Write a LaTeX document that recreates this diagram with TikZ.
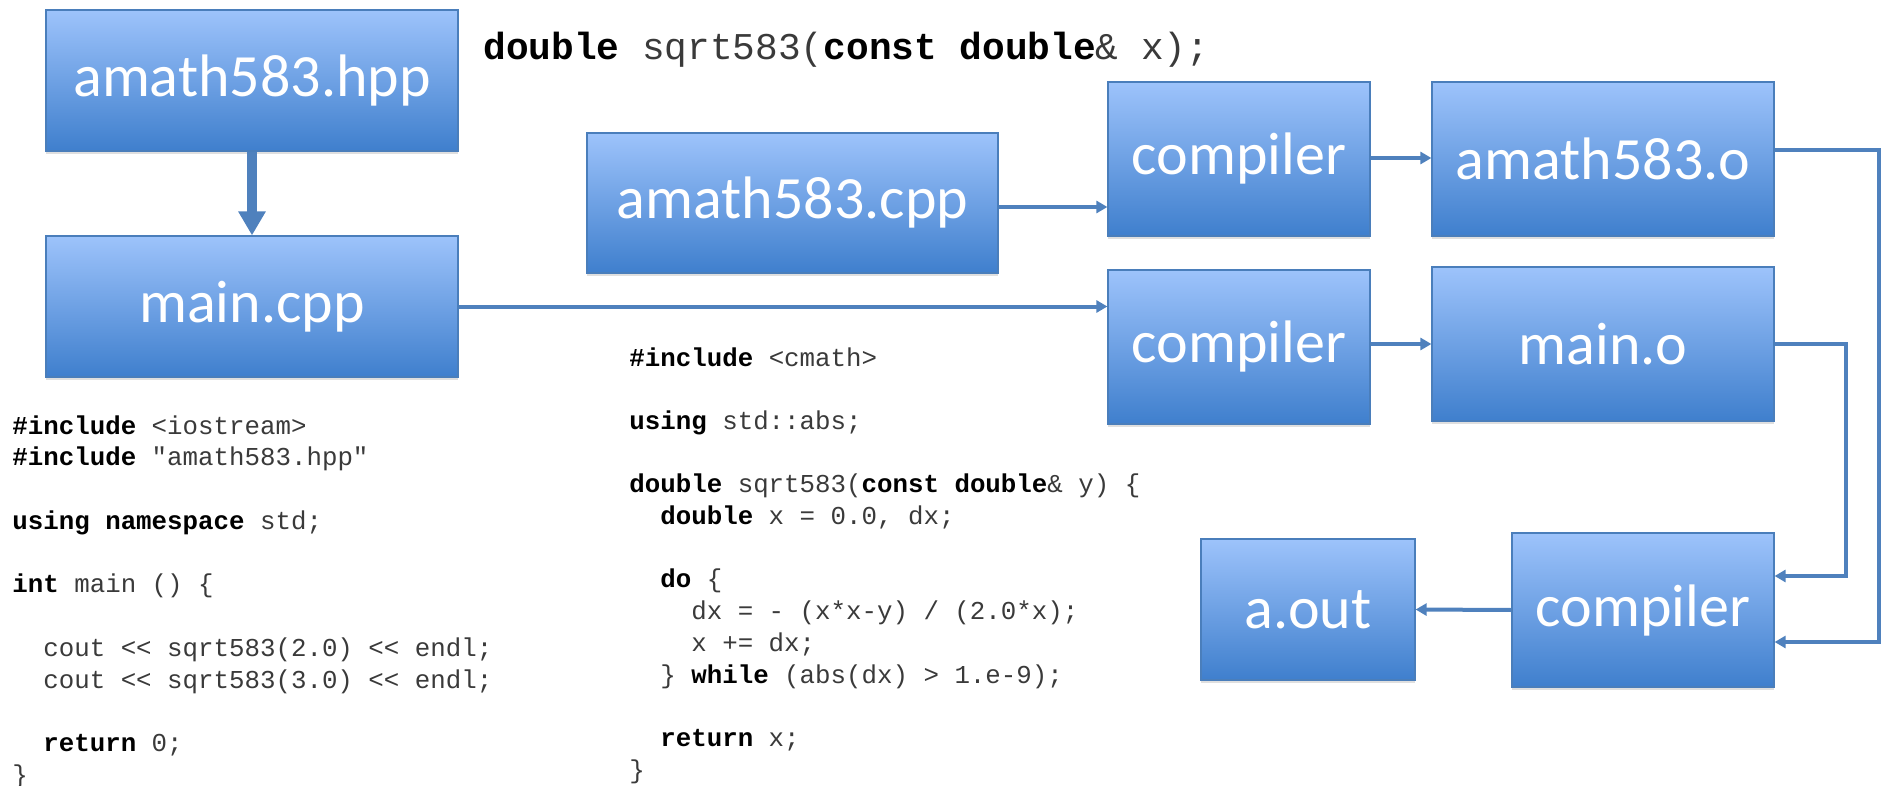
\documentclass[tikz,border=0pt]{standalone}
\usepackage{fontspec}
\setsansfont{Carlito}
\setmonofont{Liberation Mono}
\usetikzlibrary{arrows.meta,shadows}
\definecolor{boxtop}{HTML}{9DC3FB}
\definecolor{boxmid}{HTML}{80ABED}
\definecolor{boxbot}{HTML}{3F7FCD}
\definecolor{boxline}{HTML}{4A7EBB}
\definecolor{flow}{HTML}{4F81BD}
\definecolor{plain}{HTML}{3A3A3A}
\newcommand\ind{\hspace*{1.2em}}
\newcommand\kw[1]{\textcolor{black}{\textbf{#1}}}
\newcommand\cl[3]{\node[code, anchor=base west] (#1) at (#2) {#3};}
\begin{document}
\begin{tikzpicture}[x=0.5pt,y=-0.5pt,
  box/.style={draw=boxline, line width=0.6pt, top color=boxtop, middle color=boxmid,
    bottom color=boxbot, text=white, inner sep=0pt,
    font=\sffamily\fontsize{30}{36}\selectfont,
    drop shadow={opacity=0.25, shadow xshift=0pt, shadow yshift=-1.5pt}},
  small/.style={box, minimum width=131pt, minimum height=77pt},
  conn/.style={draw=flow, line width=2pt, -{Triangle[width=6pt,length=5.5pt]}},
  bigconn/.style={draw=flow, line width=5pt, -{Triangle[width=13pt,length=12pt]}},
  code/.style={inner sep=0pt, text=plain, font=\ttfamily\fontsize{12.9}{15}\selectfont},
  sig/.style={inner sep=0pt, text=plain, font=\ttfamily\fontsize{18.9}{22}\selectfont}]
\useasboundingbox (0,0) rectangle (1889,786);

% source files and build products
\node[box, minimum width=206pt, minimum height=70.5pt] (hpp) at (252,80.5) {amath583.hpp};
\node[box, minimum width=206pt, minimum height=70.5pt] (maincpp) at (252,306.5) {main.cpp};
\node[box, minimum width=205.5pt, minimum height=70pt] (cpp) at (792.5,203) {amath583.cpp};
\node[small] (c1) at (1239,159) {compiler};
\node[box, minimum width=171pt, minimum height=77pt] (ao) at (1603,159) {amath583.o};
\node[small] (c2) at (1239,347) {compiler};
\node[box, minimum width=171pt, minimum height=77pt] (mo) at (1603,344) {main.o};
\node[small] (c3) at (1643,610) {compiler};
\node[box, minimum width=107pt, minimum height=70.5pt] (aout) at (1308,609.5) {a.out};

% routing points for the link step
\coordinate (bendA) at (1879,150);
\coordinate (bendA2) at (1879,642);
\coordinate (bendB) at (1846,344);
\coordinate (bendB2) at (1846,576);

% connectors
\draw[bigconn] (hpp.south) -- (maincpp.north);
\draw[conn] ([yshift=-2pt]cpp.east) -- ([yshift=-2pt]cpp.east -| c1.west);
\draw[conn] (maincpp.east) -- (maincpp.east -| c2.west);
\draw[conn] ([yshift=0.5pt]c1.east) -- ([yshift=0.5pt]ao.west);
\draw[conn] (c2.east |- mo.west) -- (mo.west);
\draw[conn] ([yshift=4.5pt]ao.east) -- (bendA) -- (bendA2) -- (bendA2 -| c3.east);
\draw[conn] (mo.east) -- (bendB) -- (bendB2) -- (bendB2 -| c3.east);
\draw[conn] (c3.west) -- (aout.east);

% declaration
\node[sig, anchor=base west] (decl) at (483,60) {\kw{double} sqrt583(\kw{const double}\& x);};

% main.cpp listing
\cl{l1}{12,434}{\kw{\#include} <iostream>}
\cl{l2}{12,465.75}{\kw{\#include} "amath583.hpp"}
\cl{l3}{12,529.25}{\kw{using namespace} std;}
\cl{l4}{12,592.75}{\kw{int} main () \{}
\cl{l5}{12,656.25}{\ind cout << sqrt583(2.0) << endl;}
\cl{l6}{12,688}{\ind cout << sqrt583(3.0) << endl;}
\cl{l7}{12,751.5}{\ind\kw{return} 0;}
\cl{l8}{12,783.25}{\}}

% amath583.cpp listing
\cl{m1}{629,366}{\kw{\#include} <cmath>}
\cl{m2}{629,429.4}{\kw{using} std::abs;}
\cl{m3}{629,492.8}{\kw{double} sqrt583(\kw{const double}\& y) \{}
\cl{m4}{629,524.5}{\ind\kw{double} x = 0.0, dx;}
\cl{m5}{629,587.9}{\ind\kw{do} \{}
\cl{m6}{629,619.6}{\ind\ind dx = - (x*x-y) / (2.0*x);}
\cl{m7}{629,651.3}{\ind\ind x += dx;}
\cl{m8}{629,683}{\ind\} \kw{while} (abs(dx) > 1.e-9);}
\cl{m9}{629,746.4}{\ind\kw{return} x;}
\cl{m10}{629,778.1}{\}}
\end{tikzpicture}
\end{document}
